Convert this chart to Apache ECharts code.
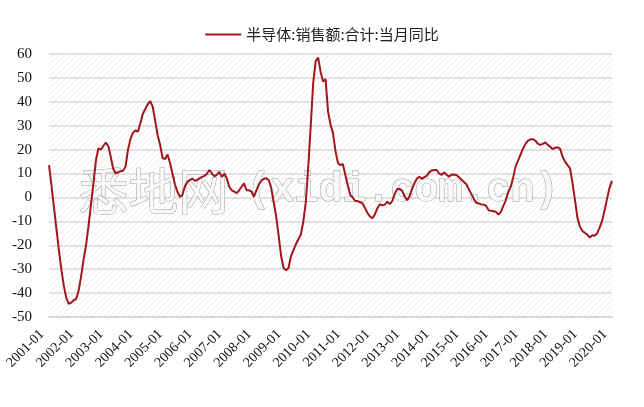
<!DOCTYPE html>
<html><head><meta charset="utf-8">
<script src="https://cdn.jsdelivr.net/npm/echarts@6/dist/echarts.min.js"></script>
<style>html,body{margin:0;padding:0;background:#fff}#c{width:644px;height:407px}</style>
</head><body><div id="c"></div>
<script>
const seriesName = '半导体:销售额:合计:当月同比';
const startYear = 2001, endYear = 2020, endMonth = 1;
const yMin = -50, yMax = 60, yInterval = 10;
const watermarkCJK = '悉地网';
const watermarkLatin = '(xidi.com.cn)';
const values = [
  13.5, 5, -4, -13, -22, -30, -37, -42, -44.5, -44, -43, -42.5,
  -39, -33, -26, -20, -12, -3, 6, 15.5, 20.5, 20, 21.5, 23,
  21.5, 17, 12, 10, 10.5, 11, 11.2, 13, 20, 24.5, 27, 28,
  27.5, 31, 35, 37, 39, 40.3, 38, 32, 26, 22, 16.5, 16,
  18, 14.5, 10, 5.5, 2.4, 0.3, 1, 4.5, 6.5, 7.3, 7.9, 7,
  7.3, 8, 8.6, 9, 10, 11.5, 10, 8.8, 9.5, 10.7, 8.6, 10,
  8, 4.5, 3, 2.4, 1.8, 3, 4.5, 5.9, 3, 3, 2.5, 0.3,
  3, 5.5, 7, 7.8, 8, 7.3, 4, -2, -8, -16, -24.5, -29.5,
  -30.4, -29.5, -24.5, -22, -19.5, -17.5, -15.5, -10, -2, 13, 30, 48,
  57, 58.5, 52.5, 48.5, 49.5, 36, 30.5, 27, 19.5, 14.5, 13.5, 14,
  9.5, 5, 1, 0, -1.5, -1.5, -2, -2.5, -4.5, -6.5, -8, -8.7,
  -7, -4.5, -2.8, -3.3, -3, -1.8, -2.8, -1.5, 1.5, 3.5, 3.6, 2.8,
  0.5, -1.2, 0.5, 3.5, 6, 7.8, 8.7, 7.8, 8.5, 9, 10.5, 11.3,
  11.5, 11.5, 10, 9.5, 10.4, 9.5, 8.7, 9.5, 9.6, 9.4, 8.5, 7.5,
  6.5, 5.5, 3.5, 1.5, -0.5, -2.2, -2.5, -2.9, -3, -3.5, -5.3, -5.6,
  -5.8, -6, -7.2, -6, -3.5, -1.2, 2.4, 4.5, 8.5, 13, 15.5, 18,
  20.5, 22.5, 23.8, 24.3, 24.3, 23.8, 22.4, 22, 22.4, 23, 22, 21.2,
  20.2, 20.8, 21, 20.3, 17, 15, 13.5, 12.2, 6, -1, -8.5, -12.2,
  -14, -14.8, -15.5, -16.8, -15.8, -16, -15, -12.5, -9.8, -5.5, -0.5, 4,
  6.9
];
const categories = [];
for (let y = startYear; y <= endYear; y++) {
  for (let m = 1; m <= 12; m++) {
    if (y === endYear && m > endMonth) break;
    categories.push(y + '-' + String(m).padStart(2, '0'));
  }
}

const pat = document.createElement('canvas');
pat.width = 6; pat.height = 6;
const g = pat.getContext('2d');
g.fillStyle = '#ffffff'; g.fillRect(0, 0, 6, 6);
g.strokeStyle = '#ececec'; g.lineWidth = 1;
g.beginPath();
g.moveTo(0, 6); g.lineTo(6, 0);
g.moveTo(-1, 1); g.lineTo(1, -1);
g.moveTo(5, 7); g.lineTo(7, 5);
g.stroke();

const chart = echarts.init(document.getElementById('c'), null, {renderer: 'canvas'});
const wmStyle = {
  fill: '#f8f8f8', stroke: '#9c9c9c', lineWidth: 1,
  shadowBlur: 2, shadowColor: 'rgba(0,0,0,0.4)', shadowOffsetX: 2, shadowOffsetY: 2
};
chart.setOption({
  animation: false,
  backgroundColor: '#ffffff',
  legend: {
    top: 22, left: 'center',
    itemWidth: 36, itemHeight: 10, itemGap: 10,
    icon: 'path://M0,4 L36,4 L36,6 L0,6 Z',
    textStyle: {fontFamily: 'Noto Sans CJK SC', fontSize: 15, color: '#222'},
    data: [seriesName]
  },
  grid: {
    left: 49, right: 32, top: 54, bottom: 90,
    show: true, borderWidth: 0,
    backgroundColor: {image: pat, repeat: 'repeat'}
  },
  graphic: [
    {type: 'text', left: 78, top: 166, z: 1, silent: true,
     style: Object.assign({text: watermarkCJK, font: '50px "Noto Sans CJK SC"'}, wmStyle)},
    {type: 'text', left: 246, top: 170, z: 1, silent: true,
     style: Object.assign({text: watermarkLatin, font: 'bold 40px "Liberation Mono"'}, wmStyle)}
  ],
  xAxis: {
    type: 'category', data: categories, boundaryGap: false,
    axisLine: {onZero: false, lineStyle: {color: '#d9d9d9', width: 2}},
    axisTick: {show: false},
    axisLabel: {
      interval: 11, rotate: 45, margin: 8, padding: [0, 10, 0, 0],
      fontFamily: 'Liberation Serif', fontSize: 14, color: '#111'
    },
    splitLine: {show: false}
  },
  yAxis: {
    type: 'value', min: yMin, max: yMax, interval: yInterval,
    axisLine: {show: false}, axisTick: {show: false},
    axisLabel: {margin: 17, fontFamily: 'Liberation Serif', fontSize: 15, color: '#111'},
    splitLine: {lineStyle: {color: '#d9d9d9', width: 1.5}}
  },
  series: [{
    name: seriesName, type: 'line', data: values,
    showSymbol: false, symbol: 'none', smooth: false, z: 3,
    lineStyle: {color: '#a0161c', width: 2},
    itemStyle: {color: '#a0161c'}
  }]
});
</script>
</body></html>
